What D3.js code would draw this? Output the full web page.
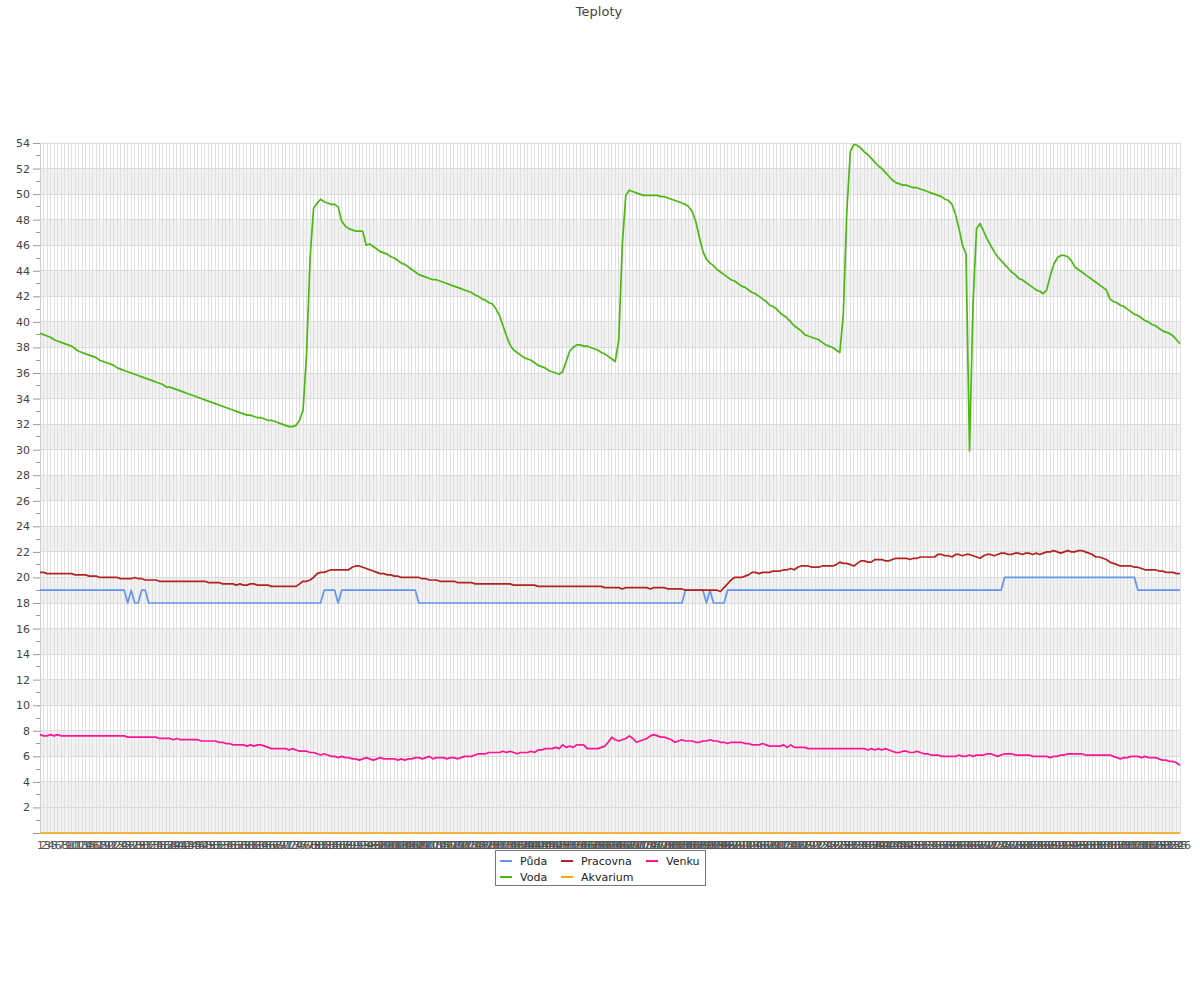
<!DOCTYPE html>
<html><head><meta charset="utf-8">
<script src="https://cdn.jsdelivr.net/npm/d3@7"></script>
<style>
body{margin:0;background:#fff;}
text{font-family:"DejaVu Sans",sans-serif;}
</style></head>
<body><svg id="c" width="1200" height="1000"></svg>
<script>
const title = "Teploty";
const seriesNames = ["Půda","Voda","Pracovna","Akvarium","Venku"];
const seriesColors = ["#6495ED","#4CB814","#B22222","#FFA500","#FF1493"];
const yTicks = [2,4,6,8,10,12,14,16,18,20,22,24,26,28,30,32,34,36,38,40,42,44,46,48,50,52,54];

const puda = [
19,19,19,19,19,19,19,19,19,19,
19,19,19,19,19,19,19,19,19,19,
19,19,19,19,19,18,19,18,18,19,
19,18,18,18,18,18,18,18,18,18,
18,18,18,18,18,18,18,18,18,18,
18,18,18,18,18,18,18,18,18,18,
18,18,18,18,18,18,18,18,18,18,
18,18,18,18,18,18,18,18,18,18,
18,19,19,19,19,18,19,19,19,19,
19,19,19,19,19,19,19,19,19,19,
19,19,19,19,19,19,19,19,18,18,
18,18,18,18,18,18,18,18,18,18,
18,18,18,18,18,18,18,18,18,18,
18,18,18,18,18,18,18,18,18,18,
18,18,18,18,18,18,18,18,18,18,
18,18,18,18,18,18,18,18,18,18,
18,18,18,18,18,18,18,18,18,18,
18,18,18,18,18,18,18,18,18,18,
18,18,18,18,19,19,19,19,19,19,
18,19,18,18,18,18,19,19,19,19,
19,19,19,19,19,19,19,19,19,19,
19,19,19,19,19,19,19,19,19,19,
19,19,19,19,19,19,19,19,19,19,
19,19,19,19,19,19,19,19,19,19,
19,19,19,19,19,19,19,19,19,19,
19,19,19,19,19,19,19,19,19,19,
19,19,19,19,19,19,19,19,19,19,
19,19,19,19,19,20,20,20,20,20,
20,20,20,20,20,20,20,20,20,20,
20,20,20,20,20,20,20,20,20,20,
20,20,20,20,20,20,20,20,20,20,
20,20,20,19,19,19,19,19,19,19,
19,19,19,19,19,19];

const voda = [
39.1,39.0,38.9,38.8,38.6,38.5,38.4,38.3,38.2,38.1,
37.9,37.7,37.6,37.5,37.4,37.3,37.2,37.0,36.9,36.8,
36.7,36.6,36.4,36.3,36.2,36.1,36.0,35.9,35.8,35.7,
35.6,35.5,35.4,35.3,35.2,35.1,34.9,34.9,34.8,34.7,
34.6,34.5,34.4,34.3,34.2,34.1,34.0,33.9,33.8,33.7,
33.6,33.5,33.4,33.3,33.2,33.1,33.0,32.9,32.8,32.7,
32.7,32.6,32.5,32.5,32.4,32.3,32.3,32.2,32.1,32.0,
31.9,31.8,31.8,31.9,32.3,33.1,37.5,45.0,48.9,49.3,
49.6,49.4,49.3,49.2,49.2,49.0,47.9,47.5,47.3,47.2,
47.1,47.1,47.1,46.0,46.1,45.9,45.7,45.5,45.4,45.3,
45.1,45.0,44.8,44.6,44.5,44.3,44.1,43.9,43.7,43.6,
43.5,43.4,43.3,43.3,43.2,43.1,43.0,42.9,42.8,42.7,
42.6,42.5,42.4,42.3,42.1,42.0,41.8,41.7,41.5,41.4,
41.0,40.5,39.7,38.9,38.2,37.8,37.6,37.4,37.2,37.1,
37.0,36.8,36.6,36.5,36.4,36.2,36.1,36.0,35.9,36.1,
36.9,37.7,38.0,38.2,38.2,38.1,38.1,38.0,37.9,37.8,
37.6,37.5,37.3,37.1,36.9,38.6,46.0,49.9,50.3,50.2,
50.1,50.0,49.9,49.9,49.9,49.9,49.9,49.8,49.8,49.7,
49.6,49.5,49.4,49.3,49.2,49.0,48.6,47.8,46.6,45.5,
44.9,44.6,44.4,44.1,43.9,43.7,43.5,43.3,43.2,43.0,
42.8,42.7,42.5,42.3,42.2,42.0,41.8,41.6,41.3,41.2,
41.0,40.7,40.5,40.3,40.0,39.7,39.5,39.3,39.0,38.9,
38.8,38.7,38.6,38.4,38.2,38.1,38.0,37.8,37.6,40.5,
48.5,53.3,53.9,53.8,53.6,53.3,53.1,52.8,52.5,52.2,
52.0,51.7,51.4,51.1,50.9,50.8,50.7,50.7,50.6,50.5,
50.5,50.4,50.3,50.2,50.1,50.0,49.9,49.8,49.6,49.5,
49.2,48.4,47.3,46.0,45.3,29.9,41.5,47.3,47.7,47.1,
46.5,46.0,45.5,45.1,44.8,44.5,44.2,43.9,43.7,43.4,
43.3,43.1,42.9,42.7,42.5,42.4,42.2,42.5,43.6,44.5,
45.0,45.2,45.2,45.1,44.8,44.3,44.1,43.9,43.7,43.5,
43.3,43.1,42.9,42.7,42.5,41.8,41.6,41.5,41.3,41.2,
41.0,40.8,40.6,40.5,40.3,40.1,40.0,39.8,39.7,39.5,
39.3,39.2,39.1,38.9,38.6,38.3];

const pracovna = [
20.4,20.4,20.3,20.3,20.3,20.3,20.3,20.3,20.3,20.3,
20.2,20.2,20.2,20.2,20.1,20.1,20.1,20.0,20.0,20.0,
20.0,20.0,20.0,19.9,19.9,19.9,19.9,20.0,19.9,19.9,
19.8,19.8,19.8,19.8,19.7,19.7,19.7,19.7,19.7,19.7,
19.7,19.7,19.7,19.7,19.7,19.7,19.7,19.7,19.6,19.6,
19.6,19.6,19.5,19.5,19.5,19.5,19.4,19.5,19.4,19.4,
19.5,19.5,19.4,19.4,19.4,19.4,19.3,19.3,19.3,19.3,
19.3,19.3,19.3,19.3,19.5,19.7,19.7,19.8,20.0,20.3,
20.4,20.4,20.5,20.6,20.6,20.6,20.6,20.6,20.6,20.8,
20.9,20.9,20.8,20.7,20.6,20.5,20.4,20.3,20.3,20.2,
20.2,20.1,20.1,20.0,20.0,20.0,20.0,20.0,20.0,19.9,
19.9,19.8,19.8,19.8,19.7,19.7,19.7,19.7,19.7,19.6,
19.6,19.6,19.6,19.6,19.5,19.5,19.5,19.5,19.5,19.5,
19.5,19.5,19.5,19.5,19.5,19.4,19.4,19.4,19.4,19.4,
19.4,19.4,19.3,19.3,19.3,19.3,19.3,19.3,19.3,19.3,
19.3,19.3,19.3,19.3,19.3,19.3,19.3,19.3,19.3,19.3,
19.3,19.2,19.2,19.2,19.2,19.2,19.1,19.2,19.2,19.2,
19.2,19.2,19.2,19.2,19.1,19.2,19.2,19.2,19.2,19.1,
19.1,19.1,19.1,19.1,19.0,19.0,19.0,19.0,19.0,19.0,
19.0,19.0,19.0,19.0,18.9,19.2,19.5,19.8,20.0,20.0,
20.0,20.1,20.2,20.4,20.4,20.3,20.4,20.4,20.4,20.5,
20.5,20.5,20.6,20.6,20.7,20.6,20.8,20.9,20.9,20.9,
20.8,20.8,20.8,20.9,20.9,20.9,20.9,21.0,21.2,21.1,
21.1,21.0,20.9,21.1,21.3,21.3,21.2,21.2,21.4,21.4,
21.4,21.3,21.3,21.4,21.5,21.5,21.5,21.5,21.4,21.5,
21.5,21.6,21.6,21.6,21.6,21.6,21.8,21.8,21.7,21.7,
21.6,21.8,21.8,21.7,21.8,21.8,21.7,21.6,21.5,21.7,
21.8,21.8,21.7,21.8,21.9,21.9,21.8,21.8,21.9,21.9,
21.8,21.9,21.9,21.8,21.9,21.8,21.9,22.0,22.0,22.1,
22.0,21.9,22.0,22.1,22.0,22.0,22.1,22.1,22.0,21.9,
21.8,21.6,21.6,21.5,21.4,21.2,21.1,21.0,20.9,20.9,
20.9,20.9,20.8,20.8,20.7,20.6,20.6,20.6,20.6,20.5,
20.5,20.4,20.4,20.4,20.3,20.3];

const akvarium = [
0,0,0,0,0,0,0,0,0,0, 0,0,0,0,0,0,0,0,0,0,
0,0,0,0,0,0,0,0,0,0, 0,0,0,0,0,0,0,0,0,0,
0,0,0,0,0,0,0,0,0,0, 0,0,0,0,0,0,0,0,0,0,
0,0,0,0,0,0,0,0,0,0, 0,0,0,0,0,0,0,0,0,0,
0,0,0,0,0,0,0,0,0,0, 0,0,0,0,0,0,0,0,0,0,
0,0,0,0,0,0,0,0,0,0, 0,0,0,0,0,0,0,0,0,0,
0,0,0,0,0,0,0,0,0,0, 0,0,0,0,0,0,0,0,0,0,
0,0,0,0,0,0,0,0,0,0, 0,0,0,0,0,0,0,0,0,0,
0,0,0,0,0,0,0,0,0,0, 0,0,0,0,0,0,0,0,0,0,
0,0,0,0,0,0,0,0,0,0, 0,0,0,0,0,0,0,0,0,0,
0,0,0,0,0,0,0,0,0,0, 0,0,0,0,0,0,0,0,0,0,
0,0,0,0,0,0,0,0,0,0, 0,0,0,0,0,0,0,0,0,0,
0,0,0,0,0,0,0,0,0,0, 0,0,0,0,0,0,0,0,0,0,
0,0,0,0,0,0,0,0,0,0, 0,0,0,0,0,0,0,0,0,0,
0,0,0,0,0,0,0,0,0,0, 0,0,0,0,0,0,0,0,0,0,
0,0,0,0,0,0,0,0,0,0, 0,0,0,0,0,0,0,0,0,0,
0,0,0,0,0,0];

const venku = [
7.7,7.6,7.6,7.7,7.6,7.7,7.6,7.6,7.6,7.6,
7.6,7.6,7.6,7.6,7.6,7.6,7.6,7.6,7.6,7.6,
7.6,7.6,7.6,7.6,7.6,7.5,7.5,7.5,7.5,7.5,
7.5,7.5,7.5,7.5,7.4,7.4,7.4,7.4,7.3,7.4,
7.3,7.3,7.3,7.3,7.3,7.3,7.2,7.2,7.2,7.2,
7.2,7.1,7.1,7.0,7.0,6.9,6.9,6.9,6.9,6.8,
6.9,6.8,6.9,6.9,6.8,6.7,6.6,6.6,6.6,6.6,
6.6,6.5,6.6,6.5,6.4,6.4,6.4,6.3,6.3,6.2,
6.1,6.2,6.1,6.0,6.0,5.9,6.0,5.9,5.9,5.8,
5.8,5.7,5.8,5.9,5.8,5.7,5.8,5.9,5.8,5.8,
5.8,5.8,5.7,5.8,5.7,5.8,5.8,5.9,5.9,5.8,
5.9,6.0,5.8,5.9,5.9,5.9,5.8,5.9,5.9,5.8,
5.9,6.0,6.0,6.0,6.1,6.2,6.2,6.2,6.3,6.3,
6.3,6.3,6.4,6.3,6.4,6.3,6.2,6.3,6.3,6.3,
6.4,6.3,6.5,6.5,6.6,6.6,6.6,6.7,6.6,6.9,
6.7,6.8,6.7,6.9,6.9,6.9,6.6,6.6,6.6,6.6,
6.7,6.8,7.1,7.5,7.3,7.2,7.3,7.4,7.6,7.4,
7.1,7.2,7.3,7.4,7.6,7.7,7.6,7.5,7.5,7.4,
7.3,7.1,7.2,7.3,7.2,7.2,7.2,7.1,7.1,7.2,
7.2,7.3,7.2,7.2,7.1,7.1,7.0,7.1,7.1,7.1,
7.1,7.0,7.0,6.9,6.9,6.9,7.0,6.9,6.8,6.8,
6.8,6.8,6.9,6.7,6.9,6.7,6.7,6.7,6.7,6.6,
6.6,6.6,6.6,6.6,6.6,6.6,6.6,6.6,6.6,6.6,
6.6,6.6,6.6,6.6,6.6,6.6,6.5,6.6,6.5,6.6,
6.5,6.6,6.5,6.4,6.3,6.3,6.4,6.4,6.3,6.3,
6.4,6.3,6.2,6.2,6.1,6.1,6.1,6.0,6.0,6.0,
6.0,6.0,6.1,6.0,6.0,6.1,6.0,6.1,6.1,6.1,
6.2,6.2,6.1,6.0,6.1,6.2,6.2,6.2,6.1,6.1,
6.1,6.1,6.1,6.0,6.0,6.0,6.0,6.0,5.9,6.0,
6.0,6.1,6.1,6.2,6.2,6.2,6.2,6.2,6.1,6.1,
6.1,6.1,6.1,6.1,6.1,6.1,6.0,5.9,5.8,5.9,
5.9,6.0,6.0,6.0,5.9,6.0,5.9,5.9,5.9,5.8,
5.7,5.7,5.6,5.6,5.5,5.3];

const categories = d3.range(1, voda.length + 1).map(String);
const seriesValues = [puda, voda, pracovna, akvarium, venku];

const svg = d3.select("#c");
const L = 40, R = 1180, T = 143, B = 833;
const x = d3.scalePoint().domain(categories).range([L, R]);
const y = d3.scaleLinear().domain([0, 54]).range([B, T]);

// alternating bands (every other 2-unit interval)
const bandStarts = yTicks.filter(v => v % 4 === 2 && v < 54);
svg.append("g").selectAll("rect").data(bandStarts).join("rect")
  .attr("x", L).attr("width", R - L)
  .attr("y", d => y(d + 2)).attr("height", d => y(d) - y(d + 2))
  .attr("fill", "#f2f2f2");
svg.append("g").selectAll("rect").data([0]).join("rect")
  .attr("x", L).attr("width", R - L)
  .attr("y", y(2)).attr("height", y(0) - y(2)).attr("fill", "#f2f2f2");

// vertical grid
svg.append("g").selectAll("line").data(categories).join("line")
  .attr("x1", d => x(d)).attr("x2", d => x(d)).attr("y1", T).attr("y2", B)
  .attr("stroke", "#e0e0e0").attr("stroke-width", 1).attr("shape-rendering", "crispEdges");
// horizontal grid
svg.append("g").selectAll("line").data(yTicks).join("line")
  .attr("x1", L).attr("x2", R).attr("y1", d => y(d)).attr("y2", d => y(d))
  .attr("stroke", "#dcdcdc").attr("stroke-width", 1).attr("shape-rendering", "crispEdges");

// y axis
const yAxis = svg.append("g").attr("transform", `translate(${L},0)`)
  .call(d3.axisLeft(y).tickValues(yTicks).tickSize(7).tickPadding(3).tickFormat(d3.format("d")));
yAxis.select(".domain").attr("stroke", "#ccc");
yAxis.selectAll(".tick line").attr("stroke", "#999");
yAxis.selectAll("text").attr("fill", "#444").style("font-size", "11px");
const minor = d3.range(1, 54, 2);
svg.append("g").selectAll("line").data(minor).join("line")
  .attr("x1", L - 4).attr("x2", L).attr("y1", d => y(d)).attr("y2", d => y(d))
  .attr("stroke", "#999").attr("shape-rendering", "crispEdges");
svg.append("line").attr("x1", L - 7).attr("x2", L).attr("y1", y(0)).attr("y2", y(0))
  .attr("stroke", "#999").attr("shape-rendering", "crispEdges");

// x axis
const xAxis = svg.append("g").attr("transform", `translate(0,${B})`)
  .call(d3.axisBottom(x).tickSize(0).tickPadding(8));
xAxis.select(".domain").attr("stroke", "#ccc");
xAxis.selectAll("text").attr("fill", "#555").style("font-size", "11px");

// lines
const line = d3.line().x((d, i) => x(categories[i])).y(d => y(d));
svg.append("g").selectAll("path").data(seriesValues).join("path")
  .attr("d", d => line(d)).attr("fill", "none")
  .attr("stroke", (d, i) => seriesColors[i]).attr("stroke-width", 1.7)
  .attr("stroke-linejoin", "round");

// title
svg.append("text").attr("x", 599).attr("y", 16).attr("text-anchor", "middle")
  .attr("fill", "#444").style("font-size", "13px").text(title);

// legend
const lg = svg.append("g");
lg.append("rect").attr("x", 495.5).attr("y", 850.5).attr("width", 210).attr("height", 35)
  .attr("fill", "#fff").attr("stroke", "#777");
const colX = [500, 561, 646];
const rowY = [861, 877];
seriesNames.forEach((n, i) => {
  const col = Math.floor(i / 2), row = i % 2;
  const g = lg.append("g").attr("transform", `translate(${colX[col]},${rowY[row]})`);
  g.append("line").attr("x1", 0).attr("x2", 12).attr("y1", 0).attr("y2", 0)
    .attr("stroke", seriesColors[i]).attr("stroke-width", 2);
  g.append("text").attr("x", 20).attr("y", 4).attr("fill", "#222").style("font-size", "11px").text(n);
});
</script></body></html>
